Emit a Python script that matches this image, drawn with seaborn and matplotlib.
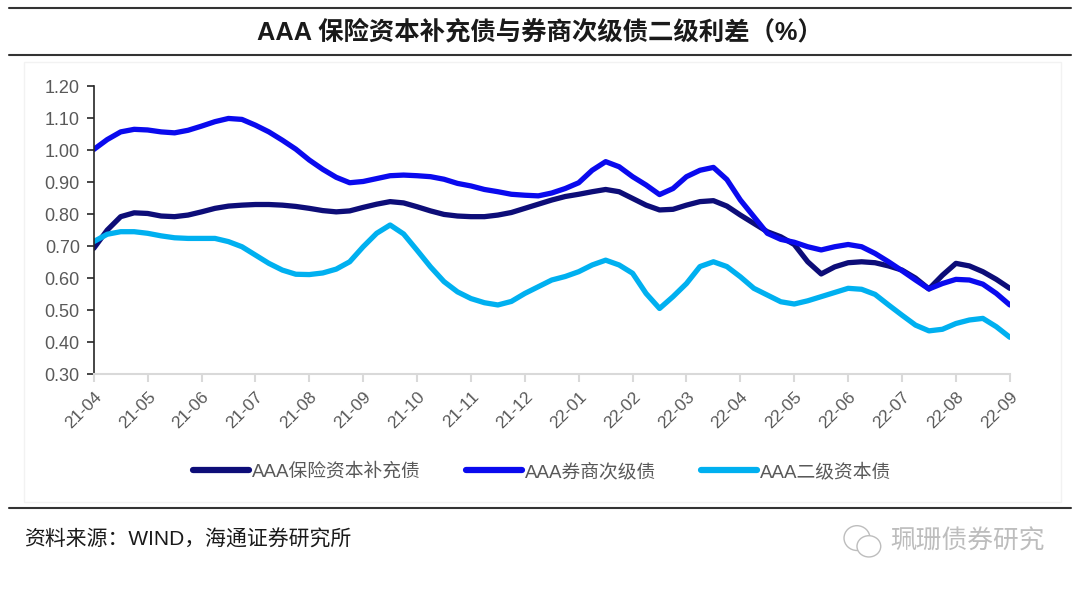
import matplotlib

matplotlib.use("Agg")

import matplotlib.pyplot as plt
import numpy as np
import pandas as pd
import seaborn as sns
from matplotlib.lines import Line2D
from matplotlib.patches import Ellipse, Rectangle


MONTH_LABELS = [
    "21-04", "21-05", "21-06", "21-07", "21-08", "21-09", "21-10", "21-11", "21-12",
    "22-01", "22-02", "22-03", "22-04", "22-05", "22-06", "22-07", "22-08", "22-09",
]

# readings every quarter month, 21-04 .. 22-09
insurance = [
    0.693, 0.750, 0.792, 0.804, 0.802, 0.794, 0.792, 0.797,
    0.807, 0.818, 0.825, 0.828, 0.830, 0.830, 0.828, 0.824,
    0.818, 0.811, 0.807, 0.810, 0.821, 0.831, 0.839, 0.835,
    0.823, 0.810, 0.799, 0.794, 0.792, 0.792, 0.797, 0.805,
    0.818, 0.831, 0.844, 0.855, 0.862, 0.870, 0.877, 0.870,
    0.849, 0.828, 0.813, 0.815, 0.828, 0.839, 0.842, 0.825,
    0.797, 0.771, 0.745, 0.729, 0.705, 0.651, 0.613, 0.635,
    0.648, 0.651, 0.648, 0.638, 0.625, 0.600, 0.566, 0.609,
    0.646, 0.638, 0.620, 0.596, 0.568,
]
broker = [
    1.002, 1.033, 1.057, 1.065, 1.063, 1.057, 1.054, 1.062,
    1.075, 1.089, 1.099, 1.096, 1.078, 1.057, 1.031, 1.003,
    0.969, 0.940, 0.915, 0.898, 0.902, 0.911, 0.920, 0.922,
    0.920, 0.917, 0.909, 0.896, 0.888, 0.877, 0.870, 0.862,
    0.859, 0.857, 0.866, 0.880, 0.898, 0.937, 0.964, 0.948,
    0.917, 0.891, 0.861, 0.880, 0.917, 0.937, 0.946, 0.908,
    0.844, 0.792, 0.740, 0.721, 0.712, 0.698, 0.688, 0.698,
    0.705, 0.698, 0.677, 0.651, 0.623, 0.594, 0.566, 0.583,
    0.596, 0.594, 0.581, 0.552, 0.516,
]
tier2 = [
    0.714, 0.737, 0.745, 0.745, 0.740, 0.732, 0.726, 0.724,
    0.724, 0.724, 0.714, 0.698, 0.672, 0.646, 0.625, 0.612,
    0.611, 0.616, 0.628, 0.651, 0.698, 0.740, 0.766, 0.738,
    0.687, 0.635, 0.589, 0.557, 0.536, 0.523, 0.516, 0.527,
    0.552, 0.573, 0.594, 0.605, 0.620, 0.641, 0.656, 0.641,
    0.615, 0.552, 0.505, 0.542, 0.583, 0.636, 0.651, 0.636,
    0.604, 0.568, 0.547, 0.526, 0.519, 0.529, 0.542, 0.555,
    0.568, 0.565, 0.549, 0.516, 0.484, 0.453, 0.435, 0.440,
    0.458, 0.469, 0.474, 0.448, 0.415,
]

SERIES_NAMES = ["AAA保险资本补充债", "AAA券商次级债", "AAA二级资本债"]
COLORS = {"AAA保险资本补充债": "#0D0D78", "AAA券商次级债": "#0A0AEE", "AAA二级资本债": "#00B0F0"}

TITLE = "AAA 保险资本补充债与券商次级债二级利差（%）"
SOURCE = "资料来源：WIND，海通证券研究所"
WATERMARK = "珮珊债券研究"

FONTS = ["Liberation Sans", "Noto Sans CJK SC", "DejaVu Sans"]
TEXT_GRAY = "#595959"


def build_frame():
    period = np.arange(len(insurance)) / 4
    frames = []
    for name, values in zip(SERIES_NAMES, [insurance, broker, tier2]):
        frames.append(pd.DataFrame({"period": period, "spread": values, "series": name}))
    return pd.concat(frames, ignore_index=True)


def hline(fig, y):
    fig.add_artist(Line2D([0.008, 0.992], [y, y], transform=fig.transFigure,
                          color="#333333", linewidth=1.5))


def main():
    sns.set_theme(style="white")
    plt.rcParams["font.family"] = FONTS
    plt.rcParams["axes.unicode_minus"] = False

    df = build_frame()

    fig = plt.figure(figsize=(10.8, 5.9), dpi=100)
    fig.patch.set_facecolor("white")
    ax = fig.add_axes([0.0868, 0.366, 0.935 - 0.0868, 0.854 - 0.366])

    # faint chart frame
    fig.add_artist(Rectangle((0.022, 0.15), 0.96, 0.745, transform=fig.transFigure,
                             facecolor="none", edgecolor="#F2F2F2", linewidth=1))

    sns.lineplot(
        data=df, x="period", y="spread", hue="series", hue_order=SERIES_NAMES,
        palette=COLORS, linewidth=3.8, ax=ax, legend=False, sort=False,
    )
    for line in ax.get_lines():
        line.set_solid_joinstyle("round")
        line.set_solid_capstyle("round")

    ax.set_xlim(0, len(MONTH_LABELS) - 1)
    ax.set_ylim(0.30, 1.20)
    yticks = np.round(np.arange(0.30, 1.201, 0.10), 2)
    ax.set_yticks(yticks)
    ax.set_yticklabels([f"{v:.2f}" for v in yticks])
    ax.set_xticks(range(len(MONTH_LABELS)))
    ax.set_xticklabels(MONTH_LABELS, rotation=45, ha="right", rotation_mode="anchor")
    ax.set_xlabel("")
    ax.set_ylabel("")

    for side in ["top", "right"]:
        ax.spines[side].set_visible(False)
    ax.spines["left"].set_color("#262626")
    ax.spines["left"].set_linewidth(1.2)
    ax.spines["bottom"].set_color("#D9D9D9")
    ax.spines["bottom"].set_linewidth(1.5)
    ax.tick_params(axis="y", direction="out", length=5, width=1.2, color="#262626",
                   labelsize=13, labelcolor=TEXT_GRAY, pad=5, left=True)
    ax.tick_params(axis="x", direction="out", length=6, width=1.5, color="#D9D9D9",
                   labelsize=12.5, labelcolor=TEXT_GRAY, pad=5, bottom=True)
    ax.grid(False)

    handles = [Line2D([0], [0], color=COLORS[n], linewidth=4.5, solid_capstyle="round")
               for n in SERIES_NAMES]
    fig.legend(handles, SERIES_NAMES, loc="center", bbox_to_anchor=(0.502, 0.2), ncol=3,
               frameon=False, fontsize=13.5, handlelength=3.0, handletextpad=0.15,
               columnspacing=2.4, labelcolor=TEXT_GRAY)

    # title band
    hline(fig, 0.987)
    hline(fig, 0.907)
    fig.text(0.5, 0.946, TITLE, ha="center", va="center", fontsize=18.3,
             fontweight="bold", color="#1A1A1A")

    # footer
    hline(fig, 0.139)
    fig.text(0.022, 0.085, SOURCE, ha="left", va="center", fontsize=15, color="#1A1A1A")
    fig.text(0.967, 0.082, WATERMARK, ha="right", va="center", fontsize=18.5, color="#BDBDBD")
    fig.add_artist(Ellipse((0.7935, 0.088), 0.024, 0.042, transform=fig.transFigure,
                           facecolor="white", edgecolor="#BDBDBD", linewidth=1))
    fig.add_artist(Ellipse((0.8045, 0.074), 0.022, 0.036, transform=fig.transFigure,
                           facecolor="white", edgecolor="#BDBDBD", linewidth=1))

    plt.savefig("out.png", dpi=100, facecolor="white")
    plt.close()


if __name__ == "__main__":
    main()
